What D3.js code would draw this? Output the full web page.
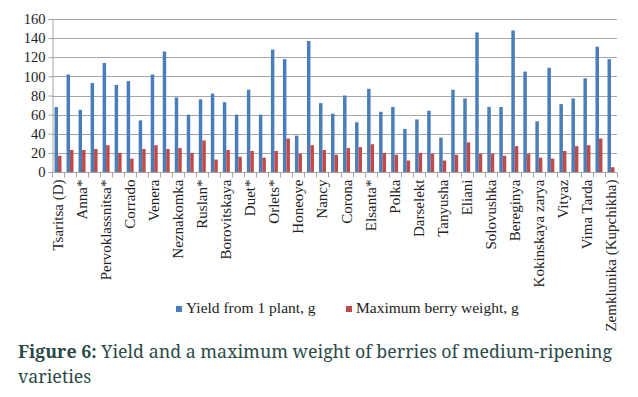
<!DOCTYPE html>
<html>
<head>
<meta charset="utf-8">
<script src="https://cdn.jsdelivr.net/npm/d3@7"></script>
<style>
  body { margin: 0; background: #fff; }
  svg { display: block; }
</style>
</head>
<body>
<svg width="638" height="397"></svg>
<script>
// only every other variety is labelled on the axis
var labels = ['Tsaritsa (D)', 'Anna*', 'Pervoklassnitsa*', 'Corrado', 'Venera',
    'Neznakomka', 'Ruslan*', 'Borovitskaya', 'Duet*', 'Orlets*', 'Honeoye',
    'Nancy', 'Corona', 'Elsanta*', 'Polka', 'Darselekt', 'Tanyusha', 'Eliani',
    'Solovushka', 'Bereginya', 'Kokinskaya zarya', 'Vityaz', 'Vima Tarda',
    'Zemklunika (Kupchikha)'];

var yieldVals = [68, 102, 65, 93, 114, 91, 95, 54, 102, 126, 78, 60, 76, 82, 73, 60,
    86, 60, 128, 118, 38, 137, 72, 61, 80, 52, 87, 63, 68, 45, 55, 64, 36, 86, 77,
    146, 68, 68, 148, 105, 53, 109, 71, 77, 98, 131, 118];

var berryVals = [17, 23, 23, 24, 28, 20, 14, 24, 28, 24, 25, 20, 33, 13, 23, 16,
    22, 15, 22, 35, 19, 28, 23, 18, 25, 26, 29, 20, 18, 12, 20, 19, 12, 18, 31,
    19, 19, 17, 27, 19, 15, 14, 22, 27, 28, 35, 5];

var yTicks = [0, 20, 40, 60, 80, 100, 120, 140, 160];
var series = ['Yield from 1 plant, g', 'Maximum berry weight, g'];
var cores = ['#4a7ebb', '#be4b48'];

var svg = d3.select('svg');
var fonte = '"Liberation Serif", "Times New Roman", serif';

var idx = d3.range(yieldVals.length);
var x = d3.scaleBand().domain(idx).range([52, 617]).paddingInner(0.42).paddingOuter(0.21);
var x1 = d3.scaleBand().domain([0, 1]).range([0, x.bandwidth()]);
var y = d3.scaleLinear().domain([0, 160]).range([172, 19]);

//Grade
svg.append('g')
    .selectAll('line')
    .data(yTicks.slice(1))
    .enter()
    .append('line')
    .attr('x1', 52).attr('x2', 617)
    .attr('y1', function (d) { return Math.round(y(d)) + 0.5; })
    .attr('y2', function (d) { return Math.round(y(d)) + 0.5; })
    .attr('stroke', '#a6a6a6')
    .attr('stroke-width', 1);

//Eixo Y
var eixoY = svg.append('g')
    .attr('transform', 'translate(52.5,0)')
    .call(d3.axisLeft(y).tickValues(yTicks).tickSize(4).tickPadding(3));
eixoY.select('.domain').attr('stroke', '#a6a6a6');
eixoY.selectAll('.tick line').attr('stroke', '#a6a6a6');
eixoY.selectAll('text')
    .attr('font-family', fonte)
    .attr('font-size', 14.5)
    .attr('fill', '#222');

//Barras
var grupos = svg.append('g')
    .selectAll('g')
    .data(idx)
    .enter()
    .append('g')
    .attr('transform', function (i) { return 'translate(' + x(i) + ',0)'; });

grupos.selectAll('rect')
    .data(function (i) { return [yieldVals[i], berryVals[i]]; })
    .enter()
    .append('rect')
    .attr('x', function (d, j) { return x1(j); })
    .attr('width', x1.bandwidth())
    .attr('y', function (d) { return y(d); })
    .attr('height', function (d) { return y(0) - y(d); })
    .style('fill', function (d, j) { return cores[j]; });

//Eixo X
var eixoX = svg.append('g')
    .attr('transform', 'translate(0,' + (Math.round(y(0)) + 0.5) + ')');
eixoX.append('line')
    .attr('x1', 52).attr('x2', 617)
    .attr('stroke', '#a6a6a6');
eixoX.selectAll('line.tick')
    .data(d3.range(yieldVals.length + 1))
    .enter()
    .append('line')
    .attr('class', 'tick')
    .attr('x1', function (i) { return Math.round(52 + i * x.step()) + 0.5; })
    .attr('x2', function (i) { return Math.round(52 + i * x.step()) + 0.5; })
    .attr('y1', 0).attr('y2', 5)
    .attr('stroke', '#a6a6a6');

eixoX.selectAll('text')
    .data(labels)
    .enter()
    .append('text')
    .attr('transform', function (d, i) {
        var cx = x(i * 2) + x.bandwidth() / 2;
        return 'translate(' + (cx + 5) + ',7) rotate(-90)';
    })
    .attr('text-anchor', 'end')
    .attr('font-family', fonte)
    .attr('font-size', 15)
    .attr('fill', '#222')
    .text(function (d) { return d; });

//Legenda
var legenda = svg.append('g').attr('transform', 'translate(0,311)');
var legX = [176, 346];
series.forEach(function (nome, i) {
    legenda.append('rect')
        .attr('x', legX[i]).attr('y', -5)
        .attr('width', 6).attr('height', 6)
        .style('fill', cores[i]);
    legenda.append('text')
        .attr('x', legX[i] + 10).attr('y', 2)
        .attr('font-family', fonte)
        .attr('font-size', 15.5)
        .attr('fill', '#222')
        .text(nome);
});

//Legenda da figura
var cap = svg.append('text')
    .attr('x', 18).attr('y', 358)
    .attr('font-family', '"Noto Serif", "DejaVu Serif", serif')
    .attr('font-size', 17.8)
    .attr('fill', '#2b4a47');
cap.append('tspan').attr('font-weight', 'bold').text('Figure 6:');
cap.append('tspan').text(' Yield and a maximum weight of berries of medium-ripening');
svg.append('text')
    .attr('x', 18).attr('y', 383)
    .attr('font-family', '"Noto Serif", "DejaVu Serif", serif')
    .attr('font-size', 17.8)
    .attr('fill', '#2b4a47')
    .text('varieties');
</script>
</body>
</html>
